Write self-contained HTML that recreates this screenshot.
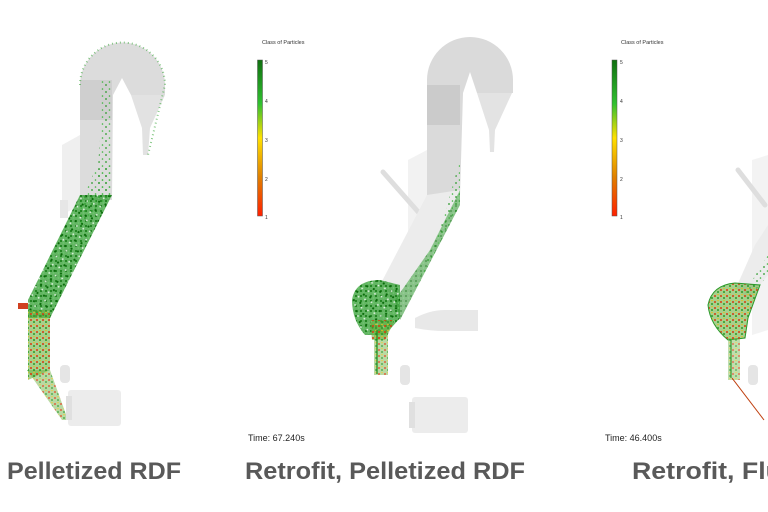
<!DOCTYPE html>
<html><head><meta charset="utf-8"><style>
html,body{margin:0;padding:0;background:#fff;width:768px;height:512px;overflow:hidden}
svg{display:block}
text{font-family:"Liberation Sans",sans-serif}
</style></head><body>
<svg width="768" height="512" viewBox="0 0 768 512" xmlns="http://www.w3.org/2000/svg">
<defs>
<linearGradient id="leg" x1="0" y1="1" x2="0" y2="0">
<stop offset="0" stop-color="#ff2000"/><stop offset="0.25" stop-color="#e08000"/><stop offset="0.5" stop-color="#ffe000"/><stop offset="0.72" stop-color="#30c030"/><stop offset="1" stop-color="#107010"/>
</linearGradient>
<pattern id="dots" width="5" height="5" patternUnits="userSpaceOnUse">
<rect width="5" height="5" fill="#2f9a2f" opacity="0.75"/>
<circle cx="1" cy="1" r="1" fill="#0f7a0f"/><circle cx="3.5" cy="3" r="0.9" fill="#6cc86c"/>
</pattern>
<pattern id="dots2" width="7" height="9" patternUnits="userSpaceOnUse" patternTransform="rotate(23)">
<circle cx="2" cy="3" r="1.1" fill="#0a6a0a"/><circle cx="5" cy="7" r="0.9" fill="#e8f5e8"/>
</pattern>
<pattern id="dotsR" width="6" height="6" patternUnits="userSpaceOnUse">
<rect width="6" height="6" fill="#6cb040" opacity="0.6"/>
<circle cx="1" cy="2" r="1" fill="#d83a10"/><circle cx="4" cy="4" r="1" fill="#2a9a2a"/><circle cx="4" cy="0.5" r="0.8" fill="#e0c020"/>
</pattern>
<pattern id="sparse" width="7" height="7" patternUnits="userSpaceOnUse">
<circle cx="1" cy="1" r="0.9" fill="#2a9a2a"/><circle cx="4.5" cy="5" r="0.8" fill="#3cb43c"/>
</pattern>
</defs>

<!-- LEFT DRAWING -->
<g>
<path d="M80,200 L80,85 A42,42 0 0 1 165,85 L165,95 L131,95 L122,78 L113,95 L112,200 Z" fill="#dcdcdc"/>
<rect x="80" y="80" width="32" height="40" fill="#cfcfcf"/>
<polygon points="131,95 165,95 150,128 148,155 143,155 142,128" fill="#e2e2e2"/>
<polygon points="62,145 80,135 80,205 62,215" fill="#efefef"/>
<rect x="60" y="200" width="8" height="18" fill="#e6e6e6"/>
<polygon points="100,80 112,80 112,195 95,205 100,140" fill="url(#sparse)"/>
<polygon points="80,195 112,195 50,318 28,318 28,300" fill="url(#dots)"/>
<polygon points="80,195 112,195 50,318 28,318 28,300" fill="url(#dots2)"/>
<polygon points="95,170 112,165 112,195 80,230 80,205" fill="url(#sparse)"/>
<path d="M80,85 A42,42 0 0 1 165,85 L148,155" fill="none" stroke="#3aa53a" stroke-width="2" stroke-dasharray="1 3" opacity="0.6"/>
<polygon points="28,310 50,310 50,370 28,380" fill="url(#dotsR)"/>
<polygon points="27,370 50,370 68,420 62,420" fill="url(#dotsR)" opacity="0.8"/>
<rect x="18" y="303" width="10" height="6" fill="#d04020"/>
<rect x="60" y="365" width="10" height="18" fill="#e5e5e5" rx="4"/>
<rect x="68" y="390" width="53" height="36" fill="#ececec" rx="3"/>
<rect x="66" y="396" width="6" height="24" fill="#e0e0e0"/>
</g>

<!-- LEGEND 1 -->
<text x="262" y="44" font-size="5.5" fill="#333">Class of Particles</text>
<rect x="257.5" y="60" width="5" height="156" fill="url(#leg)" stroke="#555" stroke-width="0.5"/>
<g font-size="5" fill="#333"><text x="265" y="64">5</text><text x="265" y="103">4</text><text x="265" y="142">3</text><text x="265" y="181">2</text><text x="265" y="219">1</text></g>
<text x="248" y="441" font-size="9" fill="#222">Time: 67.240s</text>

<!-- MIDDLE DRAWING -->
<g>
<path d="M427,200 L427,80 A43,43 0 0 1 513,80 L513,93 L477,93 L470,72 L463,93 L460,195 Z" fill="#dadada"/>
<rect x="427" y="85" width="33" height="40" fill="#cbcbcb"/>
<polygon points="477,93 512,93 495,130 494,152 490,152 489,130" fill="#e3e3e3"/>
<polygon points="408,160 427,150 427,230 408,240" fill="#f2f2f2"/>
<line x1="383" y1="172" x2="420" y2="214" stroke="#dedede" stroke-width="5" stroke-linecap="round"/>
<polygon points="460,190 427,195 380,285 400,320 460,205" fill="#ececec"/>
<polygon points="460,160 460,205 400,320 410,300 440,230" fill="url(#sparse)"/>
<polygon points="460,190 460,205 400,320 395,300 430,250" fill="url(#dots)" opacity="0.7"/>
<path d="M352,300 Q355,280 380,280 L400,285 L400,318 L385,335 L365,335 Q352,320 352,300 Z" fill="url(#dots)"/>
<path d="M352,300 Q355,280 380,280 L400,285 L400,318 L385,335 L365,335 Q352,320 352,300 Z" fill="url(#dots2)"/>
<polygon points="370,320 395,320 385,340 372,340" fill="url(#dotsR)"/>
<rect x="374" y="330" width="14" height="45" fill="url(#dotsR)" opacity="0.8"/>
<line x1="377" y1="330" x2="377" y2="374" stroke="#1a8a1a" stroke-width="1.2"/>
<path d="M415,318 Q430,310 445,310 L478,310 L478,331 L445,331 Q430,331 415,328 Z" fill="#e8e8e8"/>
<rect x="400" y="365" width="10" height="20" fill="#e5e5e5" rx="4"/>
<rect x="412" y="397" width="56" height="36" fill="#ececec" rx="3"/>
<rect x="409" y="402" width="6" height="26" fill="#e0e0e0"/>
</g>

<!-- LEGEND 2 -->
<text x="621" y="44" font-size="5.5" fill="#333">Class of Particles</text>
<rect x="612" y="60" width="5" height="156" fill="url(#leg)" stroke="#555" stroke-width="0.5"/>
<g font-size="5" fill="#333"><text x="620" y="64">5</text><text x="620" y="103">4</text><text x="620" y="142">3</text><text x="620" y="181">2</text><text x="620" y="219">1</text></g>
<text x="605" y="441" font-size="9" fill="#222">Time: 46.400s</text>

<!-- RIGHT DRAWING -->
<g>
<polygon points="752,160 768,155 768,330 752,335" fill="#f3f3f3"/>
<line x1="738" y1="170" x2="765" y2="205" stroke="#dedede" stroke-width="5" stroke-linecap="round"/>
<polygon points="768,225 768,275 748,300 736,288 755,245" fill="#ececec"/>
<polygon points="768,255 768,275 748,300 745,292" fill="url(#sparse)"/>
<path d="M708,305 Q712,285 735,283 L760,285 L748,318 L745,338 L728,340 Q710,325 708,305 Z" fill="url(#dotsR)" stroke="#2a9a2a" stroke-width="1"/>
<rect x="728" y="338" width="12" height="42" fill="url(#dotsR)" opacity="0.7"/>
<line x1="731" y1="340" x2="731" y2="378" stroke="#1a8a1a" stroke-width="1"/>
<line x1="732" y1="378" x2="764" y2="420" stroke="#c04010" stroke-width="1"/>
<rect x="748" y="365" width="10" height="20" fill="#e5e5e5" rx="4"/>
</g>

<!-- TITLES -->
<g font-weight="bold" font-size="24" fill="#595959">
<text x="7" y="479" textLength="174" lengthAdjust="spacingAndGlyphs">Pelletized RDF</text>
<text x="245" y="479" textLength="280" lengthAdjust="spacingAndGlyphs">Retrofit, Pelletized RDF</text>
<text x="632" y="479" textLength="150" lengthAdjust="spacingAndGlyphs">Retrofit, Flu</text>
</g>
</svg>
</body></html>
